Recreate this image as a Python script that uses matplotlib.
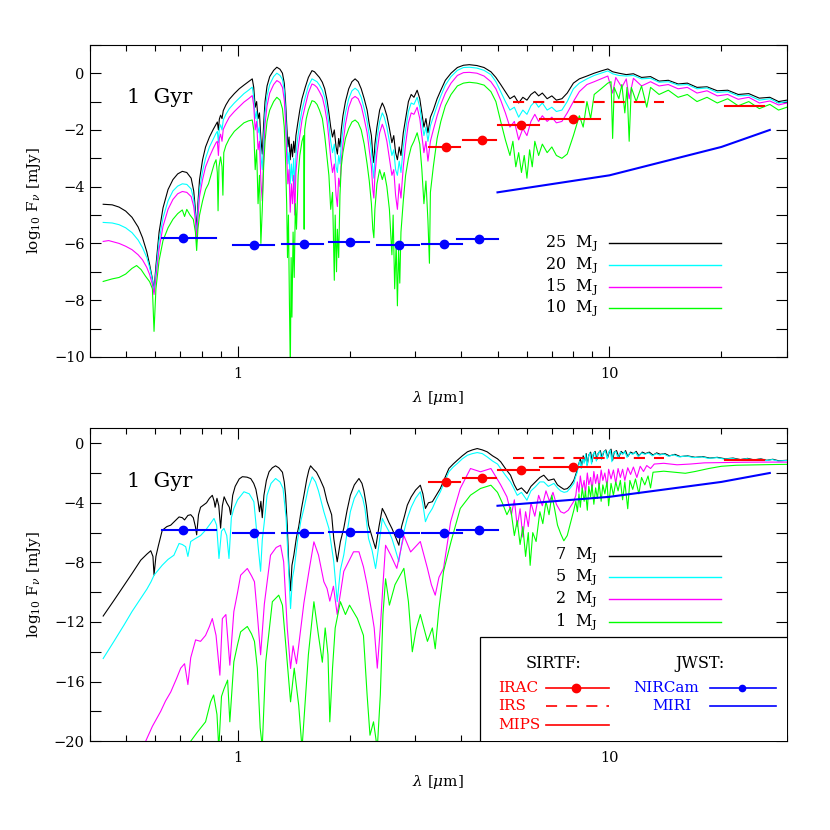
import numpy as np
import matplotlib
matplotlib.use('Agg')
import matplotlib.pyplot as plt
from matplotlib.patches import Rectangle
from matplotlib.ticker import FixedLocator, MultipleLocator, LogLocator, NullFormatter, FuncFormatter

plt.rcParams['font.family'] = ['DejaVu Serif']
plt.rcParams['mathtext.fontset'] = 'dejavuserif'
plt.rcParams['lines.scale_dashes'] = False

# spectra: (wavelength [um], log10 F_nu [mJy])
# --- upper panel, 1 Gyr, 25 / 20 / 15 / 10 M_J
top_25 = [
 (0.435, -4.62), (0.46, -4.64), (0.48, -4.72), (0.50, -4.86), (0.52, -5.08), (0.54, -5.42),
 (0.555, -5.8), (0.57, -6.3), (0.58, -6.75), (0.59, -7.25), (0.596, -7.65), (0.603, -6.8),
 (0.615, -5.6), (0.63, -4.75), (0.65, -4.1), (0.67, -3.75), (0.69, -3.55), (0.71, -3.46),
 (0.73, -3.5), (0.75, -3.7), (0.762, -4.15), (0.77, -4.8), (0.776, -5.6), (0.782, -4.6),
 (0.79, -3.75), (0.805, -3.05), (0.82, -2.6), (0.84, -2.25), (0.86, -1.98), (0.875, -1.8),
 (0.882, -1.72), (0.888, -2.0), (0.893, -1.62), (0.90, -1.48), (0.908, -1.6), (0.915, -1.32),
 (0.93, -1.12), (0.95, -0.92), (0.98, -0.72), (1.01, -0.55), (1.04, -0.42), (1.07, -0.3),
 (1.095, -0.2), (1.105, -0.5), (1.115, -1.2), (1.125, -1.0), (1.135, -1.6), (1.145, -1.4),
 (1.155, -2.3), (1.165, -2.85), (1.175, -1.8), (1.185, -1.0), (1.20, -0.45), (1.22, -0.12),
 (1.25, 0.1), (1.275, 0.21), (1.30, 0.14), (1.32, 0.0), (1.335, -0.35), (1.345, -0.95),
 (1.355, -1.8), (1.365, -2.6), (1.375, -2.25), (1.385, -3.05), (1.395, -2.5), (1.405, -2.95),
 (1.415, -2.4), (1.425, -2.8), (1.435, -2.2), (1.45, -1.8), (1.47, -1.3), (1.49, -0.9),
 (1.52, -0.5), (1.55, -0.15), (1.585, 0.09), (1.61, 0.05), (1.635, -0.05), (1.66, -0.15),
 (1.69, -0.32), (1.715, -0.55), (1.74, -0.95), (1.76, -1.4), (1.78, -1.9), (1.80, -2.25),
 (1.82, -2.0), (1.84, -2.6), (1.855, -2.85), (1.87, -2.3), (1.885, -2.6), (1.90, -2.0),
 (1.92, -1.5), (1.95, -1.0), (1.99, -0.55), (2.03, -0.3), (2.07, -0.2), (2.11, -0.3),
 (2.15, -0.55), (2.19, -0.9), (2.23, -1.3), (2.26, -1.8), (2.29, -2.2), (2.31, -2.9),
 (2.325, -3.15), (2.34, -2.5), (2.37, -1.9), (2.41, -1.3), (2.45, -1.05), (2.48, -1.2),
 (2.52, -1.5), (2.56, -1.95), (2.60, -2.45), (2.63, -2.2), (2.66, -2.8), (2.69, -3.05),
 (2.72, -2.6), (2.75, -2.9), (2.79, -2.1), (2.83, -1.6), (2.88, -1.0), (2.93, -0.75),
 (2.98, -0.85), (3.04, -0.6), (3.09, -0.9), (3.13, -1.4), (3.17, -1.9), (3.21, -1.6),
 (3.25, -2.1), (3.30, -1.55), (3.36, -1.3), (3.44, -0.9), (3.52, -0.6), (3.62, -0.25),
 (3.75, 0.0), (3.90, 0.2), (4.05, 0.28), (4.20, 0.3), (4.40, 0.27), (4.60, 0.2),
 (4.80, 0.05), (4.95, -0.15), (5.10, -0.4), (5.25, -0.65), (5.40, -0.9), (5.55, -0.8),
 (5.70, -1.05), (5.85, -0.85), (6.00, -0.95), (6.15, -0.75), (6.30, -0.65), (6.45, -0.8),
 (6.60, -0.7), (6.80, -0.9), (7.00, -0.8), (7.20, -0.95), (7.45, -0.9), (7.70, -0.7),
 (8.00, -0.35), (8.30, -0.2), (8.70, -0.1), (9.10, 0.0), (9.50, 0.08), (9.90, 0.15),
 (10.2, 0.05), (10.6, 0.0), (11.1, -0.05), (11.6, -0.02), (12.2, -0.15), (12.9, -0.12),
 (13.6, -0.28), (14.4, -0.25), (15.3, -0.38), (16.2, -0.35), (17.2, -0.5), (18.3, -0.48),
 (19.5, -0.62), (20.8, -0.6), (22.2, -0.75), (23.7, -0.72), (25.3, -0.88), (27.0, -0.85),
 (28.5, -1.0), (30.0, -0.95),
]
top_20 = [
 (0.435, -5.26), (0.46, -5.28), (0.48, -5.34), (0.50, -5.45), (0.52, -5.62), (0.54, -5.88),
 (0.555, -6.15), (0.57, -6.5), (0.58, -6.85), (0.59, -7.3), (0.596, -7.7), (0.603, -7.0),
 (0.615, -5.9), (0.63, -5.1), (0.65, -4.5), (0.67, -4.15), (0.69, -3.98), (0.71, -3.9),
 (0.73, -3.92), (0.75, -4.08), (0.762, -4.45), (0.77, -5.0), (0.776, -5.8), (0.782, -4.85),
 (0.79, -4.1), (0.805, -3.45), (0.82, -3.0), (0.84, -2.6), (0.86, -2.32), (0.875, -2.12),
 (0.882, -2.05), (0.888, -2.45), (0.893, -1.95), (0.90, -1.82), (0.908, -2.0), (0.915, -1.65),
 (0.93, -1.45), (0.95, -1.25), (0.98, -1.05), (1.01, -0.88), (1.04, -0.72), (1.07, -0.6),
 (1.095, -0.49), (1.105, -0.85), (1.115, -1.6), (1.125, -1.35), (1.135, -2.1), (1.145, -1.9),
 (1.155, -2.9), (1.165, -3.4), (1.175, -2.3), (1.185, -1.4), (1.20, -0.8), (1.22, -0.4),
 (1.25, -0.12), (1.275, 0.0), (1.30, -0.08), (1.32, -0.22), (1.335, -0.6), (1.345, -1.3),
 (1.355, -2.3), (1.365, -3.2), (1.375, -2.8), (1.385, -3.9), (1.395, -3.2), (1.405, -3.8),
 (1.415, -3.0), (1.425, -4.1), (1.435, -2.9), (1.45, -2.3), (1.47, -1.75), (1.49, -1.3),
 (1.52, -0.85), (1.55, -0.45), (1.585, -0.2), (1.61, -0.25), (1.635, -0.3), (1.66, -0.42),
 (1.69, -0.6), (1.715, -0.85), (1.74, -1.3), (1.76, -1.8), (1.78, -2.4), (1.80, -2.8),
 (1.82, -2.5), (1.84, -3.3), (1.855, -3.5), (1.87, -2.9), (1.885, -3.2), (1.90, -2.5),
 (1.92, -2.0), (1.95, -1.4), (1.99, -0.9), (2.03, -0.62), (2.07, -0.53), (2.11, -0.62),
 (2.15, -0.85), (2.19, -1.25), (2.23, -1.7), (2.26, -2.2), (2.29, -2.7), (2.31, -3.4),
 (2.325, -3.7), (2.34, -3.0), (2.37, -2.3), (2.41, -1.7), (2.45, -1.4), (2.48, -1.55),
 (2.52, -1.9), (2.56, -2.4), (2.60, -2.9), (2.63, -2.7), (2.66, -3.4), (2.69, -3.6),
 (2.72, -3.1), (2.75, -3.5), (2.79, -2.6), (2.83, -2.0), (2.88, -1.35), (2.93, -1.05),
 (2.98, -1.1), (3.04, -0.85), (3.09, -1.2), (3.13, -1.7), (3.17, -2.2), (3.21, -1.9),
 (3.25, -2.4), (3.30, -1.85), (3.36, -1.55), (3.44, -1.15), (3.52, -0.8), (3.62, -0.42),
 (3.75, -0.12), (3.90, 0.1), (4.05, 0.2), (4.20, 0.21), (4.40, 0.18), (4.60, 0.1),
 (4.80, -0.05), (4.95, -0.3), (5.10, -0.65), (5.25, -1.0), (5.40, -1.3), (5.55, -1.2),
 (5.70, -1.55), (5.85, -1.3), (6.00, -1.45), (6.15, -1.15), (6.30, -1.0), (6.45, -1.2),
 (6.60, -1.05), (6.80, -1.3), (7.00, -1.2), (7.20, -1.35), (7.45, -1.3), (7.70, -1.0),
 (8.00, -0.55), (8.30, -0.35), (8.70, -0.2), (9.10, -0.08), (9.50, 0.0), (9.90, 0.08),
 (10.2, -0.02), (10.6, -0.08), (11.1, -0.1), (11.6, -0.08), (12.2, -0.2), (12.9, -0.18),
 (13.6, -0.32), (14.4, -0.3), (15.3, -0.42), (16.2, -0.4), (17.2, -0.55), (18.3, -0.52),
 (19.5, -0.68), (20.8, -0.65), (22.2, -0.8), (23.7, -0.78), (25.3, -0.95), (27.0, -0.9),
 (28.5, -1.05), (30.0, -1.0),
]
top_15 = [
 (0.435, -5.93), (0.45, -5.9), (0.465, -5.95), (0.48, -6.0), (0.50, -6.1), (0.52, -6.22),
 (0.54, -6.4), (0.555, -6.58), (0.57, -6.85), (0.58, -7.1), (0.59, -7.45), (0.596, -7.8),
 (0.603, -7.2), (0.615, -6.2), (0.63, -5.4), (0.65, -4.8), (0.67, -4.45), (0.69, -4.25),
 (0.71, -4.17), (0.73, -4.2), (0.75, -4.35), (0.762, -4.7), (0.77, -5.2), (0.776, -5.95),
 (0.782, -5.1), (0.79, -4.35), (0.805, -3.75), (0.82, -3.3), (0.84, -2.95), (0.86, -2.65),
 (0.875, -2.45), (0.882, -2.4), (0.888, -2.9), (0.893, -2.3), (0.90, -2.15), (0.908, -2.4),
 (0.915, -1.98), (0.93, -1.78), (0.95, -1.55), (0.98, -1.35), (1.01, -1.18), (1.04, -1.02),
 (1.07, -0.9), (1.095, -0.79), (1.105, -1.15), (1.115, -2.0), (1.125, -1.7), (1.135, -2.7),
 (1.145, -2.4), (1.155, -3.8), (1.165, -4.5), (1.175, -2.9), (1.185, -1.8), (1.20, -1.15),
 (1.22, -0.7), (1.25, -0.4), (1.275, -0.26), (1.30, -0.33), (1.32, -0.5), (1.335, -0.95),
 (1.345, -1.7), (1.355, -2.9), (1.365, -3.9), (1.375, -3.4), (1.385, -4.9), (1.395, -3.9),
 (1.405, -4.6), (1.415, -3.6), (1.425, -5.0), (1.435, -3.5), (1.45, -2.8), (1.47, -2.2),
 (1.49, -1.65), (1.52, -1.15), (1.55, -0.7), (1.585, -0.38), (1.61, -0.42), (1.635, -0.5),
 (1.66, -0.65), (1.69, -0.85), (1.715, -1.2), (1.74, -1.7), (1.76, -2.3), (1.78, -3.0),
 (1.80, -3.5), (1.82, -3.2), (1.84, -4.3), (1.855, -4.7), (1.87, -3.7), (1.885, -4.0),
 (1.90, -3.1), (1.92, -2.5), (1.95, -1.8), (1.99, -1.2), (2.03, -0.9), (2.07, -0.82),
 (2.11, -0.9), (2.15, -1.15), (2.19, -1.6), (2.23, -2.1), (2.26, -2.7), (2.29, -3.3),
 (2.31, -4.1), (2.325, -4.4), (2.34, -3.6), (2.37, -2.8), (2.41, -2.1), (2.45, -1.8),
 (2.48, -2.0), (2.52, -2.4), (2.56, -3.0), (2.60, -3.6), (2.63, -3.4), (2.66, -4.3),
 (2.69, -4.8), (2.72, -3.9), (2.75, -4.4), (2.79, -3.3), (2.83, -2.5), (2.88, -1.75),
 (2.93, -1.4), (2.98, -1.45), (3.04, -1.2), (3.09, -1.6), (3.13, -2.2), (3.17, -2.8),
 (3.21, -2.4), (3.25, -3.1), (3.30, -2.4), (3.36, -2.0), (3.44, -1.5), (3.52, -1.1),
 (3.62, -0.7), (3.75, -0.35), (3.90, -0.08), (4.05, 0.02), (4.20, 0.03), (4.40, 0.0),
 (4.60, -0.1), (4.80, -0.3), (4.95, -0.55), (5.10, -0.95), (5.25, -1.4), (5.40, -1.9),
 (5.55, -1.7), (5.70, -2.35), (5.85, -1.95), (6.00, -2.2), (6.15, -1.7), (6.30, -1.45),
 (6.45, -1.7), (6.60, -1.5), (6.80, -1.7), (7.00, -1.55), (7.20, -1.75), (7.45, -1.7),
 (7.70, -1.4), (8.00, -1.0), (8.30, -0.65), (8.70, -0.4), (9.10, -0.3), (9.50, -0.2),
 (9.90, -0.1), (10.2, -0.7), (10.4, -0.15), (10.8, -0.5), (11.1, -0.2), (11.3, -0.9),
 (11.6, -0.18), (12.2, -0.45), (12.9, -0.3), (13.6, -0.45), (14.4, -0.4), (15.3, -0.55),
 (16.2, -0.5), (17.2, -0.7), (18.3, -0.62), (19.5, -0.8), (20.8, -0.75), (22.2, -0.92),
 (23.7, -0.85), (25.3, -1.05), (27.0, -0.98), (28.5, -1.12), (30.0, -1.05),
]
top_10 = [
 (0.435, -7.34), (0.46, -7.25), (0.48, -7.2), (0.50, -7.08), (0.52, -6.88), (0.535, -6.78),
 (0.55, -6.92), (0.565, -7.15), (0.58, -7.35), (0.59, -7.6), (0.596, -9.1), (0.603, -7.6),
 (0.615, -6.6), (0.63, -5.9), (0.65, -5.45), (0.67, -5.15), (0.69, -4.95), (0.71, -4.82),
 (0.72, -5.05), (0.73, -4.8), (0.745, -5.0), (0.76, -5.15), (0.77, -5.6), (0.776, -6.25),
 (0.782, -5.5), (0.79, -5.0), (0.805, -4.5), (0.82, -4.1), (0.835, -3.9), (0.85, -3.55),
 (0.865, -3.2), (0.875, -3.05), (0.882, -3.5), (0.886, -4.85), (0.891, -3.3), (0.90, -2.95),
 (0.908, -3.3), (0.913, -4.3), (0.918, -2.8), (0.93, -2.55), (0.95, -2.3), (0.98, -2.05),
 (1.01, -1.9), (1.04, -1.75), (1.07, -1.68), (1.095, -1.65), (1.105, -2.0), (1.115, -3.4),
 (1.125, -2.7), (1.135, -4.6), (1.145, -3.6), (1.155, -6.0), (1.165, -4.8), (1.175, -3.3),
 (1.185, -2.4), (1.20, -1.7), (1.22, -1.3), (1.25, -1.0), (1.275, -0.85), (1.30, -0.95),
 (1.32, -1.25), (1.335, -1.9), (1.345, -3.0), (1.355, -4.6), (1.362, -6.5), (1.37, -5.0),
 (1.378, -8.0), (1.386, -10.5), (1.393, -6.5), (1.40, -8.6), (1.41, -5.6), (1.42, -7.2),
 (1.43, -4.6), (1.44, -5.5), (1.455, -3.6), (1.47, -2.9), (1.49, -2.4), (1.505, -2.2),
 (1.51, -5.5), (1.515, -2.0), (1.53, -1.6), (1.55, -1.3), (1.585, -0.97), (1.61, -1.0),
 (1.635, -1.1), (1.66, -1.3), (1.69, -1.6), (1.715, -2.2), (1.74, -3.0), (1.76, -3.6),
 (1.78, -4.8), (1.80, -4.2), (1.82, -7.3), (1.83, -5.0), (1.845, -7.0), (1.855, -5.5),
 (1.87, -6.5), (1.885, -4.3), (1.90, -3.3), (1.92, -2.8), (1.95, -2.3), (1.99, -1.95),
 (2.03, -1.72), (2.07, -1.65), (2.11, -1.75), (2.15, -2.0), (2.19, -2.5), (2.23, -3.2),
 (2.26, -3.8), (2.29, -4.6), (2.31, -5.5), (2.325, -5.8), (2.34, -4.8), (2.37, -3.9),
 (2.41, -3.4), (2.45, -3.75), (2.48, -3.5), (2.52, -4.0), (2.56, -4.8), (2.60, -6.4),
 (2.62, -5.0), (2.645, -7.6), (2.67, -6.0), (2.69, -8.2), (2.71, -6.2), (2.73, -7.4),
 (2.75, -5.6), (2.79, -4.5), (2.83, -3.6), (2.88, -3.0), (2.93, -2.6), (2.98, -2.4),
 (3.04, -2.1), (3.09, -2.5), (3.13, -3.4), (3.17, -4.6), (3.21, -3.8), (3.25, -5.2),
 (3.28, -6.7), (3.30, -4.2), (3.36, -3.3), (3.44, -2.3), (3.52, -1.7), (3.62, -1.15),
 (3.75, -0.75), (3.90, -0.45), (4.05, -0.35), (4.20, -0.32), (4.40, -0.35), (4.60, -0.42),
 (4.80, -0.65), (4.95, -1.0), (5.10, -1.7), (5.25, -2.35), (5.40, -2.9), (5.50, -2.4),
 (5.60, -3.3), (5.70, -2.8), (5.80, -3.5), (5.90, -2.9), (6.00, -3.7), (6.10, -2.7),
 (6.20, -3.3), (6.30, -2.4), (6.45, -2.9), (6.60, -2.5), (6.80, -2.8), (7.00, -2.6),
 (7.20, -2.9), (7.45, -3.0), (7.70, -2.85), (8.00, -2.2), (8.30, -1.5), (8.50, -1.9),
 (8.70, -1.0), (8.90, -1.6), (9.10, -0.75), (9.50, -0.55), (9.90, -0.35), (10.1, -0.3),
 (10.2, -2.3), (10.3, -0.5), (10.6, -0.9), (10.8, -0.4), (11.0, -1.4), (11.15, -0.5),
 (11.3, -2.4), (11.45, -0.5), (11.8, -1.0), (12.2, -0.45), (12.6, -1.2), (12.9, -0.5),
 (13.6, -0.75), (14.4, -0.6), (15.3, -0.85), (16.2, -0.75), (17.2, -1.0), (18.3, -0.85),
 (19.5, -1.05), (20.8, -0.9), (22.2, -1.15), (23.7, -1.0), (25.3, -1.25), (27.0, -1.1),
 (28.5, -1.3), (30.0, -1.2),
]

# --- lower panel, 1 Gyr, 7 / 5 / 2 / 1 M_J
bot_7 = [
 (0.435, -11.6), (0.465, -10.55), (0.495, -9.55), (0.52, -8.75), (0.549, -7.85), (0.57, -7.45),
 (0.584, -7.22), (0.592, -7.6), (0.596, -8.85), (0.603, -7.6), (0.612, -6.9), (0.627, -5.85),
 (0.645, -5.6), (0.661, -5.5), (0.68, -5.2), (0.696, -4.95), (0.71, -5.0), (0.72, -5.15),
 (0.735, -4.85), (0.748, -4.8), (0.76, -5.0), (0.77, -5.6), (0.776, -6.15), (0.785, -4.8),
 (0.795, -4.3), (0.81, -4.15), (0.825, -4.0), (0.84, -3.7), (0.855, -3.5), (0.865, -3.9),
 (0.87, -4.3), (0.88, -3.7), (0.89, -4.2), (0.90, -5.7), (0.91, -4.2), (0.92, -3.6),
 (0.935, -4.0), (0.95, -4.3), (0.958, -4.8), (0.97, -3.5), (0.985, -2.9), (1.01, -2.4),
 (1.03, -2.25), (1.06, -2.28), (1.085, -2.38), (1.105, -2.7), (1.12, -3.1), (1.135, -3.9),
 (1.145, -4.6), (1.155, -3.9), (1.165, -5.0), (1.177, -3.5), (1.195, -2.5), (1.215, -1.92),
 (1.24, -1.65), (1.265, -1.52), (1.29, -1.65), (1.32, -1.95), (1.335, -2.6), (1.346, -3.5),
 (1.36, -5.5), (1.374, -8.4), (1.388, -9.9), (1.40, -8.2), (1.417, -7.5), (1.44, -6.3),
 (1.46, -5.6), (1.485, -4.4), (1.508, -3.5), (1.535, -2.4), (1.555, -1.8), (1.571, -1.52),
 (1.60, -1.75), (1.63, -1.95), (1.665, -2.4), (1.706, -3.0), (1.74, -3.9), (1.79, -4.8),
 (1.814, -6.4), (1.853, -7.96), (1.89, -6.6), (1.93, -5.7), (1.97, -4.5), (2.01, -3.5),
 (2.06, -2.8), (2.12, -2.37), (2.16, -2.7), (2.186, -3.2), (2.22, -4.2), (2.25, -5.5),
 (2.30, -6.3), (2.35, -7.07), (2.40, -5.6), (2.45, -4.38), (2.50, -4.8), (2.55, -5.3),
 (2.60, -5.72), (2.66, -6.3), (2.715, -6.85), (2.76, -5.6), (2.81, -4.9), (2.86, -4.16),
 (2.93, -3.6), (3.01, -3.15), (3.10, -2.82), (3.15, -3.4), (3.20, -4.38), (3.26, -4.0),
 (3.34, -3.93), (3.42, -3.5), (3.51, -3.04), (3.60, -2.4), (3.70, -1.7), (3.80, -1.4),
 (3.90, -1.14), (4.02, -0.85), (4.15, -0.58), (4.28, -0.45), (4.41, -0.36), (4.55, -0.45),
 (4.69, -0.58), (4.85, -0.85), (5.00, -1.05), (5.10, -1.25), (5.25, -1.7), (5.42, -2.15),
 (5.55, -2.8), (5.65, -3.15), (5.80, -3.0), (6.00, -3.38), (6.15, -2.9), (6.32, -2.6),
 (6.50, -2.3), (6.66, -2.15), (6.85, -2.5), (7.09, -2.4), (7.25, -2.8), (7.39, -2.95),
 (7.55, -3.1), (7.70, -3.05), (7.85, -2.85), (8.02, -2.5), (8.12, -2.1), (8.20, -1.75),
 (8.28, -1.35), (8.35, -1.05), (8.42, -1.5), (8.50, -0.85), (8.58, -1.2), (8.66, -0.7),
 (8.72, -1.45), (8.80, -0.8), (8.90, -0.6), (8.98, -1.25), (9.05, -0.75), (9.15, -0.55),
 (9.25, -1.1), (9.32, -0.7), (9.45, -0.5), (9.55, -1.0), (9.65, -0.6), (9.78, -0.45),
 (9.90, -0.95), (10.0, -0.55), (10.1, -0.4), (10.2, -1.15), (10.3, -0.6), (10.45, -0.5),
 (10.6, -0.95), (10.75, -0.55), (10.9, -0.7), (11.05, -0.5), (11.2, -0.9), (11.4, -0.6),
 (11.6, -0.7), (11.8, -0.55), (12.0, -0.85), (12.25, -0.6), (12.5, -0.7), (12.8, -0.6),
 (13.1, -0.8), (13.4, -0.65), (13.7, -0.75), (14.1, -0.7), (14.5, -0.85), (15.0, -0.75),
 (15.5, -0.9), (16.2, -0.85), (17.0, -0.95), (17.8, -0.9), (18.6, -1.0), (19.5, -0.95),
 (20.5, -1.05), (21.5, -1.0), (22.5, -1.1), (23.5, -1.02), (24.5, -1.12), (25.5, -1.05),
 (26.5, -1.15), (27.5, -1.08), (28.5, -1.18), (30.0, -1.15),
]
bot_5 = [
 (0.435, -14.45), (0.465, -13.3), (0.495, -12.2), (0.52, -11.3), (0.549, -10.42), (0.57, -9.8),
 (0.585, -9.3), (0.596, -8.86), (0.61, -8.55), (0.627, -8.19), (0.65, -7.8), (0.674, -7.52),
 (0.696, -6.73), (0.71, -6.8), (0.725, -6.95), (0.735, -7.6), (0.748, -6.6), (0.77, -6.4),
 (0.795, -6.2), (0.82, -5.84), (0.845, -5.4), (0.864, -5.05), (0.878, -5.5), (0.891, -7.74),
 (0.905, -5.9), (0.919, -5.72), (0.935, -6.2), (0.948, -7.74), (0.962, -5.0), (0.977, -4.38),
 (1.00, -3.8), (1.04, -3.26), (1.075, -3.4), (1.106, -3.93), (1.13, -6.4), (1.153, -8.6),
 (1.165, -6.5), (1.18, -5.27), (1.20, -3.49), (1.23, -2.7), (1.265, -2.37), (1.30, -2.6),
 (1.325, -3.04), (1.35, -5.0), (1.368, -7.96), (1.388, -11.1), (1.405, -9.0), (1.42, -8.4),
 (1.45, -6.5), (1.48, -5.2), (1.508, -4.38), (1.55, -3.0), (1.587, -2.26), (1.62, -2.6),
 (1.65, -3.2), (1.706, -4.6), (1.76, -5.72), (1.814, -7.96), (1.853, -10.64), (1.89, -8.5),
 (1.93, -7.5), (1.97, -6.0), (2.01, -4.6), (2.06, -3.7), (2.12, -3.15), (2.17, -3.7),
 (2.20, -4.38), (2.25, -6.4), (2.30, -7.2), (2.35, -8.41), (2.40, -6.8), (2.45, -5.05),
 (2.50, -5.5), (2.55, -5.9), (2.60, -6.4), (2.66, -7.2), (2.715, -7.96), (2.76, -6.8),
 (2.81, -5.8), (2.86, -5.05), (2.93, -4.3), (3.01, -3.7), (3.10, -3.26), (3.15, -4.1),
 (3.20, -5.27), (3.26, -4.8), (3.34, -4.38), (3.42, -3.8), (3.51, -3.26), (3.60, -2.6),
 (3.70, -1.92), (3.80, -1.6), (3.90, -1.36), (4.02, -1.05), (4.15, -0.81), (4.28, -0.7),
 (4.41, -0.63), (4.55, -0.7), (4.69, -0.92), (4.85, -1.2), (5.00, -1.4), (5.10, -1.7),
 (5.25, -2.15), (5.42, -2.6), (5.55, -3.1), (5.65, -3.5), (5.80, -3.3), (6.00, -3.83),
 (6.15, -3.2), (6.32, -2.93), (6.50, -2.6), (6.66, -2.6), (6.85, -2.9), (7.09, -2.7),
 (7.25, -3.0), (7.39, -3.2), (7.55, -3.3), (7.70, -3.25), (7.85, -3.0), (8.02, -2.7),
 (8.10, -2.3), (8.18, -2.0), (8.25, -1.55), (8.32, -1.2), (8.40, -1.7), (8.47, -0.95),
 (8.55, -1.35), (8.63, -0.75), (8.70, -1.6), (8.78, -0.9), (8.86, -0.65), (8.95, -1.4),
 (9.02, -0.8), (9.12, -0.6), (9.22, -1.2), (9.30, -0.75), (9.42, -0.55), (9.52, -1.1),
 (9.62, -0.65), (9.75, -0.5), (9.86, -1.05), (9.96, -0.6), (10.05, -0.45), (10.15, -1.25),
 (10.25, -0.65), (10.4, -0.55), (10.55, -1.0), (10.7, -0.6), (10.85, -0.75), (11.0, -0.55),
 (11.15, -0.95), (11.35, -0.65), (11.55, -0.75), (11.75, -0.6), (11.95, -0.9), (12.2, -0.65),
 (12.45, -0.75), (12.75, -0.65), (13.05, -0.85), (13.35, -0.7), (13.65, -0.8), (14.0, -0.72),
 (14.4, -0.88), (14.9, -0.78), (15.4, -0.92), (16.1, -0.86), (16.9, -0.97), (17.7, -0.92),
 (18.5, -1.02), (19.4, -0.97), (20.4, -1.07), (21.4, -1.02), (22.4, -1.12), (23.4, -1.04),
 (24.4, -1.14), (25.4, -1.07), (26.4, -1.17), (27.4, -1.1), (28.4, -1.2), (30.0, -1.16),
]
bot_2 = [
 (0.55, -21.0), (0.566, -20.0), (0.59, -19.0), (0.621, -18.0), (0.64, -17.3), (0.661, -16.7),
 (0.685, -15.8), (0.703, -15.1), (0.72, -14.8), (0.735, -16.2), (0.748, -14.4), (0.771, -13.2),
 (0.795, -13.3), (0.82, -12.9), (0.84, -12.3), (0.855, -11.77), (0.875, -12.9), (0.896, -15.57),
 (0.91, -11.77), (0.93, -11.5), (0.953, -14.9), (0.977, -11.3), (1.00, -10.0), (1.019, -8.86),
 (1.062, -8.41), (1.09, -8.9), (1.11, -9.3), (1.13, -11.5), (1.153, -14.2), (1.18, -10.8),
 (1.226, -7.52), (1.27, -7.0), (1.305, -6.85), (1.33, -7.96), (1.36, -12.4), (1.388, -15.12),
 (1.41, -13.6), (1.44, -14.8), (1.508, -10.7), (1.56, -8.4), (1.604, -6.62), (1.65, -7.5),
 (1.706, -9.3), (1.74, -9.75), (1.77, -10.6), (1.81, -9.6), (1.853, -11.5), (1.93, -8.6),
 (2.05, -7.29), (2.12, -7.29), (2.18, -8.3), (2.23, -9.5), (2.30, -11.5), (2.33, -12.4),
 (2.375, -15.1), (2.42, -12.4), (2.46, -9.5), (2.50, -6.85), (2.58, -7.5), (2.68, -8.4),
 (2.80, -6.2), (2.92, -7.3), (3.10, -6.6), (3.24, -8.4), (3.32, -9.5), (3.40, -10.2),
 (3.48, -9.0), (3.58, -8.4), (3.74, -5.27), (3.97, -3.04), (4.23, -1.7), (4.50, -1.92),
 (4.80, -1.7), (5.10, -2.8), (5.30, -3.6), (5.45, -4.8), (5.55, -3.8), (5.65, -5.6),
 (5.75, -4.4), (5.85, -6.3), (5.95, -4.6), (6.05, -5.6), (6.15, -4.0), (6.30, -4.9),
 (6.45, -3.5), (6.60, -4.2), (6.75, -3.2), (6.90, -3.9), (7.05, -3.3), (7.20, -4.1),
 (7.39, -4.6), (7.55, -4.7), (7.75, -4.5), (8.02, -3.9), (8.12, -3.5), (8.20, -2.6),
 (8.28, -3.3), (8.35, -2.2), (8.45, -3.1), (8.55, -2.5), (8.62, -3.4), (8.72, -2.0),
 (8.80, -2.8), (8.90, -2.3), (8.98, -3.2), (9.08, -1.9), (9.18, -2.7), (9.28, -2.1),
 (9.38, -3.0), (9.50, -1.8), (9.60, -2.5), (9.72, -2.0), (9.85, -2.9), (9.95, -1.75),
 (10.1, -2.4), (10.25, -1.8), (10.4, -2.7), (10.55, -1.7), (10.7, -2.3), (10.85, -1.75),
 (11.0, -2.5), (11.2, -1.65), (11.4, -2.1), (11.6, -1.6), (11.85, -2.3), (12.1, -1.55),
 (12.35, -1.9), (12.6, -1.5), (12.9, -1.7), (13.2, -1.4), (14.0, -1.35), (15.2, -1.45),
 (16.5, -1.4), (18.0, -1.32), (20.0, -1.3), (23.0, -1.28), (26.0, -1.27), (30.0, -1.27),
]
bot_1 = [
 (0.74, -21.0), (0.748, -20.0), (0.779, -19.4), (0.82, -18.7), (0.846, -17.36), (0.862, -16.9),
 (0.88, -18.2), (0.89, -20.5), (0.905, -17.0), (0.919, -16.5), (0.94, -15.9), (0.953, -18.7),
 (0.977, -14.67), (1.00, -13.5), (1.019, -12.66), (1.062, -12.3), (1.09, -12.8), (1.11, -13.3),
 (1.13, -15.1), (1.15, -19.1), (1.165, -20.4), (1.19, -14.7), (1.24, -10.64), (1.29, -10.2),
 (1.32, -10.87), (1.36, -14.7), (1.388, -17.36), (1.42, -15.1), (1.46, -17.6), (1.49, -20.5),
 (1.55, -14.2), (1.604, -10.64), (1.65, -12.9), (1.69, -14.7), (1.72, -12.4), (1.75, -14.2),
 (1.77, -18.7), (1.80, -15.1), (1.83, -12.4), (1.89, -10.64), (1.95, -11.5), (2.00, -10.87),
 (2.10, -11.77), (2.18, -12.9), (2.23, -16.9), (2.27, -19.6), (2.32, -18.7), (2.375, -20.5),
 (2.42, -16.9), (2.46, -11.5), (2.50, -9.1), (2.56, -10.87), (2.65, -9.5), (2.80, -8.4),
 (2.88, -10.64), (2.95, -14.0), (3.02, -12.5), (3.10, -11.5), (3.24, -13.3), (3.34, -12.4),
 (3.40, -13.8), (3.48, -11.1), (3.58, -8.6), (3.75, -6.6), (3.97, -4.38), (4.23, -3.49),
 (4.50, -3.04), (4.80, -2.82), (5.00, -3.3), (5.15, -4.0), (5.30, -4.8), (5.42, -4.3),
 (5.55, -6.2), (5.65, -5.2), (5.75, -6.8), (5.85, -5.6), (5.95, -7.6), (6.05, -6.0),
 (6.12, -8.2), (6.22, -6.0), (6.35, -6.6), (6.50, -4.6), (6.62, -5.4), (6.75, -3.9),
 (6.88, -4.8), (7.00, -3.5), (7.12, -4.4), (7.25, -5.5), (7.40, -6.1), (7.54, -6.55),
 (7.70, -6.2), (7.85, -5.4), (8.02, -4.5), (8.12, -3.9), (8.20, -4.6), (8.28, -3.4),
 (8.35, -4.3), (8.45, -3.0), (8.55, -3.9), (8.62, -3.2), (8.72, -4.5), (8.80, -2.9),
 (8.90, -3.6), (8.98, -2.8), (9.08, -4.1), (9.18, -3.0), (9.28, -3.7), (9.38, -2.7),
 (9.50, -3.9), (9.60, -2.8), (9.72, -3.4), (9.85, -2.6), (9.95, -4.2), (10.1, -2.7),
 (10.25, -3.5), (10.4, -2.6), (10.55, -3.2), (10.7, -2.5), (10.85, -3.8), (11.0, -2.6),
 (11.2, -4.4), (11.35, -2.5), (11.55, -3.1), (11.75, -2.4), (12.0, -3.4), (12.2, -2.3),
 (12.45, -2.8), (12.7, -2.2), (12.9, -3.0), (13.1, -1.95), (14.0, -1.88), (15.0, -1.95),
 (16.0, -2.02), (17.0, -1.9), (18.5, -1.7), (20.0, -1.55), (22.0, -1.48), (25.0, -1.45),
 (28.0, -1.43), (30.0, -1.42),
]

top_labels = ['25', '20', '15', '10']
bot_labels = ['7', '5', '2', '1']
curve_colors = ['black', 'cyan', 'magenta', '#00ff00']
top_leg_flux = [-6.0, -6.76, -7.53, -8.27]
bot_leg_flux = [-7.54, -8.99, -10.49, -11.99]

# instrument sensitivities
nircam_wave = [0.715, 1.106, 1.508, 2.01, 2.715, 3.585, 4.45]
nircam_lo = [0.625, 0.971, 1.318, 1.756, 2.375, 3.13, 3.9]
nircam_hi = [0.874, 1.25, 1.695, 2.258, 3.075, 4.01, 5.0]
nircam_flux = [-5.81, -6.06, -6.03, -5.94, -6.05, -6.01, -5.83]
irac_wave = [3.63, 4.54, 5.78, 7.97]
irac_lo = [3.27, 4.04, 5.0, 6.5]
irac_hi = [3.96, 4.96, 6.45, 9.46]
irac_flux = [-2.61, -2.35, -1.81, -1.61]
irs_wave = [5.5, 14.0]
irs_flux = [-1.02, -1.02]
mips_wave = [20.5, 26.0]
mips_flux = [-1.16, -1.16]
miri_wave = [5.0, 10.0, 20.0, 27.0]
miri_flux = [-4.2, -3.6, -2.6, -2.0]

IRS_DASH = (8, 6.5)


def draw_instruments(ax):
    for lo, hi, f in zip(nircam_lo, nircam_hi, nircam_flux):
        ax.plot([lo, hi], [f, f], color='blue', lw=1.5, zorder=5)
    ax.plot(nircam_wave, nircam_flux, 'o', color='blue', ms=6, zorder=6)
    for lo, hi, f in zip(irac_lo, irac_hi, irac_flux):
        ax.plot([lo, hi], [f, f], color='red', lw=1.5, zorder=5)
    ax.plot(irac_wave, irac_flux, 'o', color='red', ms=6, zorder=6)
    ax.plot(irs_wave, irs_flux, color='red', lw=1.5, dashes=IRS_DASH, zorder=5)
    ax.plot(mips_wave, mips_flux, color='red', lw=1.5, zorder=5)
    ax.plot(miri_wave, miri_flux, color='blue', lw=1.5, zorder=5)


def style_axes(ax, ylim, major, minor):
    ax.set_xscale('log')
    ax.set_xlim(0.4, 30)
    ax.set_ylim(*ylim)
    ax.xaxis.set_major_locator(FixedLocator([1, 10]))
    ax.xaxis.set_major_formatter(FuncFormatter(lambda v, p: '%g' % v))
    ax.xaxis.set_minor_locator(LogLocator(base=10, subs=np.arange(2, 10)))
    ax.xaxis.set_minor_formatter(NullFormatter())
    ax.yaxis.set_major_locator(MultipleLocator(major))
    ax.yaxis.set_minor_locator(MultipleLocator(minor))
    ax.tick_params(which='both', direction='in', top=True, right=True, labelsize=10.5)
    ax.tick_params(which='major', length=8, width=0.8)
    ax.tick_params(which='minor', length=4, width=0.8)
    ax.tick_params(axis='y', which='minor', length=8)
    ax.tick_params(axis='x', pad=7)
    for s in ax.spines.values():
        s.set_linewidth(0.8)
    ax.set_xlabel(r'$\lambda$ [$\mu$m]', fontsize=11, labelpad=6)
    ax.set_ylabel(r'log$_{10}$ F$_\nu$ [mJy]', fontsize=11, labelpad=8)


fig = plt.figure(figsize=(8.3, 8.3), dpi=100)
ax1 = fig.add_axes([0.108, 0.570, 0.840, 0.376])
ax2 = fig.add_axes([0.108, 0.107, 0.840, 0.377])

panels = [
    (ax1, [top_25, top_20, top_15, top_10], top_labels, top_leg_flux, (-10, 1), 2, 1),
    (ax2, [bot_7, bot_5, bot_2, bot_1], bot_labels, bot_leg_flux, (-20, 1), 4, 2),
]
for ax, curves, labels, leg_flux, ylim, major, minor in panels:
    for data, col in zip(curves, curve_colors):
        w, f = np.array(data).T
        ax.plot(w, f, color=col, lw=0.8)
    draw_instruments(ax)
    for lab, col, f in zip(labels, curve_colors, leg_flux):
        ax.plot([10, 19.9], [f, f], color=col, lw=1)
        ax.text(9.3, f, lab + r'  M$_{\rm J}$', ha='right', va='center', fontsize=11.5)
    ax.text(0.10, 0.83, '1  Gyr', transform=ax.transAxes, ha='center', va='center', fontsize=15)
    style_axes(ax, ylim, major, minor)

# instrument key in the lower panel
ax2.add_patch(Rectangle((4.48, -21), 40, 7.98, facecolor='white', edgecolor='black',
                        lw=0.9, zorder=8))
ax2.text(7.09, -14.77, 'SIRTF:', ha='center', va='center', fontsize=11.5, zorder=9)
ax2.text(17.5, -14.77, 'JWST:', ha='center', va='center', fontsize=11.5, zorder=9)
key_y = [-16.4, -17.65, -18.9]
for name, y in zip(['IRAC', 'IRS', 'MIPS'], key_y):
    ax2.text(5.03, y, name, color='red', ha='left', va='center', fontsize=11, zorder=9)
ax2.plot([6.76, 10.0], [key_y[0]] * 2, color='red', lw=1.2, zorder=9)
ax2.plot([8.12], [key_y[0]], 'o', color='red', ms=6, zorder=9)
ax2.plot([6.76, 10.0], [key_y[1]] * 2, color='red', lw=1.2, dashes=IRS_DASH, zorder=9)
ax2.plot([6.76, 10.0], [key_y[2]] * 2, color='red', lw=1.2, zorder=9)
ax2.text(17.4, key_y[0], 'NIRCam', color='blue', ha='right', va='center', fontsize=11, zorder=9)
ax2.text(16.6, key_y[1], 'MIRI', color='blue', ha='right', va='center', fontsize=11, zorder=9)
ax2.plot([18.6, 28.0], [key_y[0]] * 2, color='blue', lw=1.2, zorder=9)
ax2.plot([22.7], [key_y[0]], 'o', color='blue', ms=4.5, zorder=9)
ax2.plot([18.6, 28.0], [key_y[1]] * 2, color='blue', lw=1.2, zorder=9)

fig.savefig('out.png', dpi=100)
